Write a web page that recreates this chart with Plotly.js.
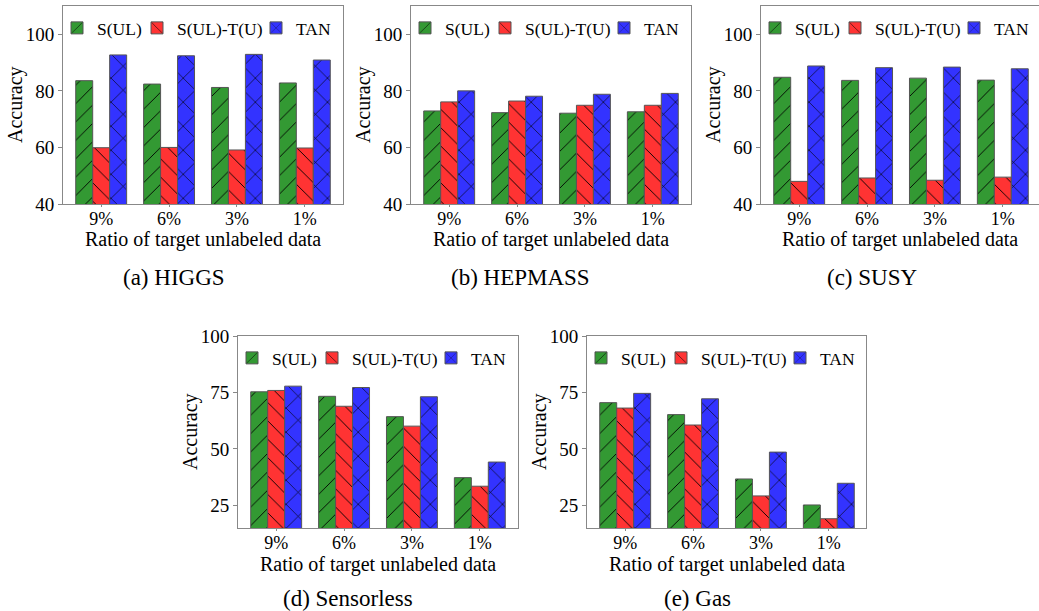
<!DOCTYPE html>
<html>
<head>
<meta charset="utf-8">
<script src="https://cdn.plot.ly/plotly-3.0.1.min.js"></script>
<style>html,body{margin:0;padding:0;background:#fff;overflow:hidden;}#chart{width:1039px;height:611px;}</style>
</head>
<body>
<div id="chart"></div>
<script>
// ---- data ----
const categories = ['9%', '6%', '3%', '1%'];
const seriesNames = ['S(UL)', 'S(UL)-T(U)', 'TAN'];
const datasetCaptions = ['(a) HIGGS', '(b) HEPMASS', '(c) SUSY', '(d) Sensorless', '(e) Gas'];
const xTitle = 'Ratio of target unlabeled data';
const yTitle = 'Accuracy';

const higgsSUL   = [83.6, 82.4, 81.2, 82.8];
const higgsSULTU = [59.9, 60.0, 59.1, 59.8];
const higgsTAN   = [92.7, 92.4, 92.9, 90.9];

const hepmassSUL   = [72.9, 72.3, 72.1, 72.6];
const hepmassSULTU = [76.1, 76.4, 74.9, 74.9];
const hepmassTAN   = [80.0, 78.1, 78.8, 79.1];

const susySUL   = [84.8, 83.7, 84.5, 83.8];
const susySULTU = [48.0, 49.2, 48.4, 49.5];
const susyTAN   = [88.8, 88.2, 88.4, 87.8];

const sensorlessSUL   = [75.3, 73.3, 64.3, 37.3];
const sensorlessSULTU = [75.9, 68.9, 60.1, 33.5];
const sensorlessTAN   = [77.8, 77.2, 73.1, 44.2];

const gasSUL   = [70.5, 65.2, 36.7, 25.2];
const gasSULTU = [68.1, 60.6, 29.2, 19.1];
const gasTAN   = [74.6, 72.2, 48.6, 34.8];

const topTicks = [40, 60, 80, 100];
const bottomTicks = [25, 50, 75, 100];

// ---- styling ----
const W = 1039, H = 611;
const FONT = 'Liberation Serif';
const colors = ['#339933', '#ff3333', '#3333ff'];
const shapes = ['/', '\\', 'x'];
const patSizes = [13, 13, 17];

const datasets = [
  [higgsSUL, higgsSULTU, higgsTAN],
  [hepmassSUL, hepmassSULTU, hepmassTAN],
  [susySUL, susySULTU, susyTAN],
  [sensorlessSUL, sensorlessSULTU, sensorlessTAN],
  [gasSUL, gasSULTU, gasTAN]
];

// pixel boxes: [x0, x1, y0(top), y1(bottom)]
const boxes = [
  [63, 343, 6, 204],
  [411, 691, 6, 204],
  [761, 1039, 6, 204],
  [238, 518, 336, 528],
  [587, 866, 336, 528]
];
const unitPx = 280 / 4.125;
// legend entry x offsets from the frame's left edge, and top offset from frame top
const legendDx = [-6, 74, 193];
const legendDy = 4;
const captionPos = [[174, 277], [520, 277], [872, 277], [348, 598], [697, 598]];

const traces = [];
const layout = {
  width: W, height: H,
  margin: {l: 0, r: 0, t: 0, b: 0, autoexpand: false},
  paper_bgcolor: '#fff', plot_bgcolor: '#fff',
  barmode: 'group', bargap: 0.25, bargroupgap: 0,
  showlegend: true,
  font: {family: FONT, color: '#000', size: 17},
  annotations: []
};

let legIdx = 1;
datasets.forEach((ds, i) => {
  const sfx = i === 0 ? '' : String(i + 1);
  const b = boxes[i];
  const top = i < 3;
  ds.forEach((vals, j) => {
    legIdx += 1;
    const legName = 'legend' + legIdx;
    traces.push({
      type: 'bar', x: categories, y: vals, name: seriesNames[j],
      xaxis: 'x' + sfx, yaxis: 'y' + sfx, legend: legName, showlegend: true,
      marker: {
        color: colors[j],
        line: {color: '#555', width: 1},
        pattern: {shape: shapes[j], fgcolor: '#000', bgcolor: colors[j], size: patSizes[j], solidity: 0.07, fillmode: 'replace'}
      },
      hoverinfo: 'x+y'
    });
    layout[legName] = {
      x: (b[0] + legendDx[j]) / W, y: 1 - (b[2] + legendDy) / H,
      xanchor: 'left', yanchor: 'top',
      orientation: 'h', bgcolor: 'rgba(0,0,0,0)', borderwidth: 0,
      font: {family: FONT, size: 17.5},
      itemwidth: 30
    };
  });
  const span = (b[1] - b[0]) / unitPx;
  layout['xaxis' + sfx] = {
    domain: [b[0] / W, b[1] / W],
    anchor: 'y' + sfx,
    type: 'category',
    range: [-0.5625, -0.5625 + span],
    showline: true, linecolor: '#888', linewidth: 1, mirror: true,
    ticks: 'outside', ticklen: 2, tickcolor: '#888',
    ticklabelstandoff: -4,
    tickfont: {family: FONT, size: 18},
    showgrid: false, zeroline: false
  };
  layout['yaxis' + sfx] = {
    domain: [1 - b[3] / H, 1 - b[2] / H],
    anchor: 'x' + sfx,
    range: top ? [40, 110] : [15, 100],
    tickvals: top ? topTicks : bottomTicks,
    showline: true, linecolor: '#888', linewidth: 1, mirror: i === 2 ? false : true,
    ticks: 'outside', ticklen: 4, tickcolor: '#888',
    tickfont: {family: FONT, size: 19},
    showgrid: false, zeroline: false
  };
  // x-axis title
  layout.annotations.push({
    xref: 'paper', yref: 'paper',
    x: ((b[0] + b[1]) / 2) / W, y: 1 - (b[3] + 36) / H,
    xanchor: 'center', yanchor: 'middle', showarrow: false,
    text: xTitle, font: {family: FONT, size: 20}
  });
  // y-axis title
  layout.annotations.push({
    xref: 'paper', yref: 'paper',
    x: (b[0] - 48) / W, y: 1 - ((b[2] + b[3]) / 2) / H,
    xanchor: 'center', yanchor: 'middle', showarrow: false, textangle: -90,
    text: yTitle, font: {family: FONT, size: 20}
  });
  // caption
  layout.annotations.push({
    xref: 'paper', yref: 'paper',
    x: captionPos[i][0] / W, y: 1 - captionPos[i][1] / H,
    xanchor: 'center', yanchor: 'middle', showarrow: false,
    text: datasetCaptions[i], font: {family: FONT, size: 23}
  });
});

Plotly.newPlot('chart', traces, layout, {displayModeBar: false, staticPlot: true});
</script>
</body>
</html>
